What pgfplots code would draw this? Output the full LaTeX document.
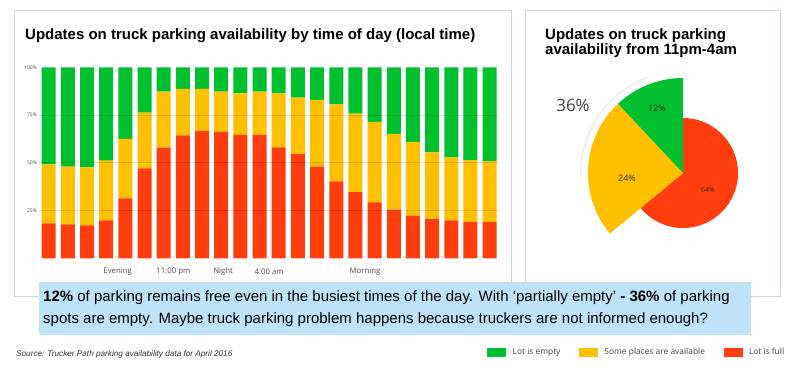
\documentclass[border=0pt]{standalone}
\usepackage{pgfplots}
\pgfplotsset{compat=1.18}
\usepackage{pgfplotstable}
\usepackage{fontspec}
\setmainfont{Liberation Sans}
\newfontfamily\osans{Open Sans}
\definecolor{cG}{RGB}{0,192,48}
\definecolor{cY}{RGB}{255,192,0}
\definecolor{cR}{RGB}{255,61,13}
\definecolor{panel}{RGB}{200,216,232}
\definecolor{boxblue}{RGB}{190,226,248}

\pgfplotstableread{
x red yellow green
0 18.3 30.9 50.8
1 17.8 30.2 52.0
2 17.3 30.3 52.4
3 19.9 31.2 48.9
4 31.4 31.1 37.5
5 47.1 29.2 23.7
6 57.9 29.4 12.7
7 64.4 24.3 11.3
8 66.7 22.0 11.3
9 66.0 21.3 12.7
10 64.6 21.8 13.6
11 64.6 22.7 12.7
12 58.1 28.3 13.6
13 54.5 29.6 15.9
14 48.0 34.9 17.1
15 40.3 40.3 19.4
16 34.6 41.1 24.3
17 29.3 42.1 28.6
18 25.5 39.6 34.9
19 22.3 38.6 39.1
20 20.6 34.9 44.5
21 19.9 33.0 47.1
22 19.0 32.3 48.7
23 19.0 31.8 49.2
}\parking

\def\vE{12}
\def\vS{24}
\def\vF{64}

\begin{document}
\begin{tikzpicture}[x=1pt,y=1pt]
\useasboundingbox (0,0) rectangle (799,-378);
\fill[white] (0,0) rectangle (799,-378);
% panels
\draw[panel, line width=1pt] (14,-10) rectangle (511.7,-296);
\draw[panel, line width=1pt] (525,-10) rectangle (780,-296);
% titles
\node[anchor=base west, inner sep=0pt, font=\bfseries\fontsize{15}{17}\selectfont] at (25,-39) {Updates on truck parking availability by time of day (local time)};
\node[anchor=base west, inner sep=0pt, font=\bfseries\fontsize{15}{17}\selectfont] at (545,-39.3) {Updates on truck parking};
\node[anchor=base west, inner sep=0pt, font=\bfseries\fontsize{15}{17}\selectfont] at (545,-54.8) {availability from 11pm-4am};

\begin{axis}[at={(39.1pt,-258.3pt)}, anchor=south west, scale only axis,
  width=460.1pt, height=191pt,
  xmin=-0.5, xmax=23.5, ymin=0, ymax=100,
  ybar stacked, bar width=14pt,
  axis line style={draw=none}, major tick length=0pt,
  ytick={25,50,75}, yticklabels={25\%,50\%,75\%},
  extra y ticks={100}, extra y tick labels={100\%},
  extra y tick style={grid=none},
  yticklabel style={font=\osans\fontsize{5}{6}\selectfont, text=black!70, anchor=east, inner sep=0pt, xshift=-2pt},
  xtick={3.6,6.5,9.1,11.5,16.5},
  xticklabels={Evening,11:00 pm,Night,4:00 am,Morning},
  xticklabel style={font=\osans\fontsize{7.8}{9}\selectfont, text=black!70, anchor=center, yshift=-13.5pt},
  ymajorgrids, grid style={black, opacity=0.12, line width=0.8pt},
  axis on top,
  reverse legend,
  legend columns=3,
  legend cell align=left,
  legend image code/.code={\fill[#1] (0pt,-4.5pt) rectangle (19pt,4.5pt);},
  legend style={at={(0.967,-0.4906)}, anchor=west, draw=none, fill=none,
    font=\osans\fontsize{8.4}{9}\selectfont, text=black!75,
    /tikz/every even column/.append style={column sep=16.5pt},
    /tikz/every odd column/.append style={column sep=4.5pt}},
]
\addplot[fill=cR, draw=none] table[x=x, y=red] {\parking};
\addlegendentry{Lot is full}
\addplot[fill=cY, draw=none] table[x=x, y=yellow] {\parking};
\addlegendentry{Some places are available}
\addplot[fill=cG, draw=none] table[x=x, y=green] {\parking};
\addlegendentry{Lot is empty}
\end{axis}

% pie
\pgfmathsetmacro\aA{90}
\pgfmathsetmacro\aB{90+3.6*\vE}
\pgfmathsetmacro\aC{\aB+3.6*\vS}
\pgfmathsetmacro\aD{\aC+3.6*\vF}
\coordinate (pc) at (683,-173);
\draw[black!7, line width=1.5pt] (pc) ++(110:102pt) arc[start angle=110, end angle=182, radius=102pt];
\fill[cR] (pc) -- ++(\aC:55pt) arc[start angle=\aC, end angle=\aD, radius=55pt] -- cycle;
\fill[cY] (pc) -- ++(\aB:95pt) arc[start angle=\aB, end angle=\aC, radius=95pt] -- cycle;
\fill[cG] (pc) -- ++(\aA:95pt) arc[start angle=\aA, end angle=\aB, radius=95pt] -- cycle;
\node[font=\osans\fontsize{17}{20}\selectfont, text=black!75] at (573,-105) {36\%};
\node[font=\osans\fontsize{9}{10}\selectfont, text=black!80] at (657,-108) {\vE\%};
\node[font=\osans\fontsize{9}{10}\selectfont, text=black!80] at (627,-178) {\vS\%};
\node[font=\osans\fontsize{7}{8}\selectfont, text=black!80] at (708,-190) {\vF\%};

% message box
\fill[boxblue] (39,-282) rectangle (751,-335);
\node[anchor=base west, inner sep=0pt, font=\fontsize{15}{18}\selectfont] at (43,-301.7) {\textbf{12\%} of parking remains free even in the busiest times of the day. With ‘partially empty’ \textbf{- 36\%} of parking};
\node[anchor=base west, inner sep=0pt, font=\fontsize{15}{18}\selectfont] at (43,-323) {spots are empty. Maybe truck parking problem happens because truckers are not informed enough?};

% source
\node[anchor=base west, inner sep=0pt, font=\itshape\fontsize{8.2}{9}\selectfont, text=black!80] at (16,-356) {Source: Trucker Path parking availability data for April 2016};
\end{tikzpicture}
\end{document}
